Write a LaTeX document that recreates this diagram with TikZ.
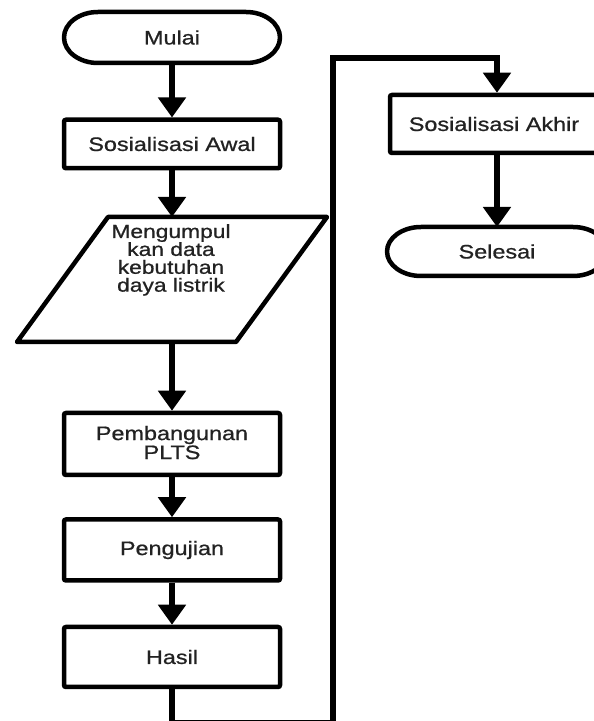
\documentclass[tikz,border=0pt]{standalone}
\usepackage{fontspec}
\setmainfont{Liberation Sans}[FakeStretch=1.2,FakeBold=0.8]
\usetikzlibrary{arrows.meta}
\definecolor{ink}{HTML}{222222}
\newcommand\termoutline[2]{%
  \draw[outline] ([xshift=34pt]#1.north west) -- ([xshift=-34pt]#1.north east)
    arc[start angle=90,end angle=-90,x radius=34pt,y radius=#2]
    -- ([xshift=34pt]#1.south west)
    arc[start angle=270,end angle=90,x radius=34pt,y radius=#2] -- cycle;}
\begin{document}
\begin{tikzpicture}[x=1pt,y=1pt,
  outline/.style={line width=4.5pt, line join=round},
  box/.style={draw, line width=4.5pt, rounded corners=2pt, minimum width=216pt,
    align=center, inner sep=0pt, text=ink, font=\fontsize{19.5}{19}\selectfont},
  term/.style={outer sep=0pt, inner sep=0pt, text=ink, font=\fontsize{19.5}{19}\selectfont},
  txt/.style={inner sep=0pt, align=center, text=ink, font=\fontsize{19}{17.9}\selectfont},
  conn/.style={line width=6pt, -{Triangle[width=27pt,length=20pt]}}
]
\clip (0,0) rectangle (594,721);
\fill[white] (0,0) rectangle (594,721);
% left column
\node[term, minimum width=216pt, minimum height=51pt] (mulai) at (172,683.5) {Mulai};
\node[box, minimum height=48.5pt] (awal) at (172,577) {Sosialisasi Awal};
\node[term, minimum width=310pt, minimum height=125pt] (data) at (172,441.5) {};
\node[txt, anchor=north] (datatext) at (171,497) {Mengumpul\\kan data\\kebutuhan\\daya listrik};
\node[box, minimum height=62pt] (bangun) at (172,277) {Pembangunan\\PLTS\rule[-3pt]{0pt}{0pt}};
\node[box, minimum height=61pt] (uji) at (172,171) {Pengujian};
\node[box, minimum height=60pt] (hasil) at (172,64) {Hasil};
% right column
\node[box, minimum width=226pt, minimum height=58pt] (akhir) at (503,597) {Sosialisasi Akhir\hspace*{18pt}};
\node[term, minimum width=220pt, minimum height=49pt] (selesai) at (497,469.5) {Selesai};
\coordinate (lb) at (333,-2.5);
\coordinate (lt) at (333,663);
\coordinate (la) at (497,663);
% shapes
\termoutline{mulai}{25.5pt}
\termoutline{selesai}{24.5pt}
\draw[outline] ([xshift=91pt]data.north west) -- (data.north east)
  -- ([xshift=-91pt]data.south east) -- (data.south west) -- cycle;
% connectors
\draw[conn] (mulai.south) -- (awal.north);
\draw[conn] (awal.south) -- (data.north);
\draw[conn] (data.south) -- (bangun.north);
\draw[conn] (bangun.south) -- (uji.north);
\draw[conn] (uji.south) -- (hasil.north);
\draw[conn] (hasil.south) |- (lb) -- (lt) -- (la) -- (la |- akhir.north);
\draw[conn] (akhir.south -| selesai.north) -- (selesai.north);
\end{tikzpicture}
\end{document}
